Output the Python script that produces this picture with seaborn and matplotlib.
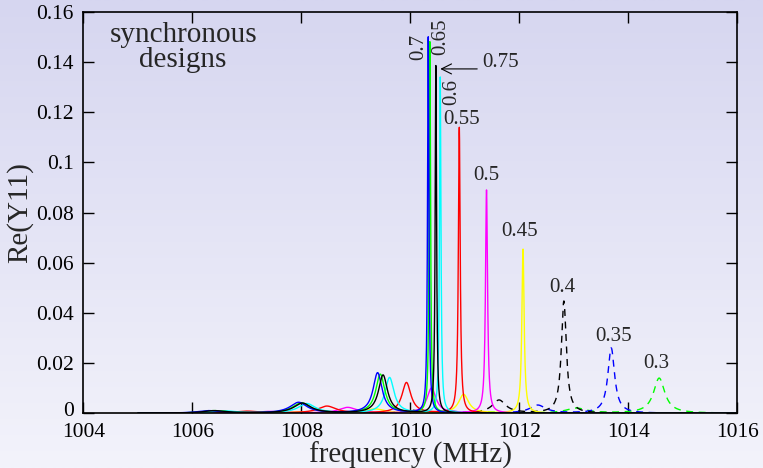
import numpy as np
import matplotlib
matplotlib.use("Agg")
import matplotlib.pyplot as plt
import matplotlib.transforms as mtransforms
import pandas as pd
import seaborn as sns

# coupling of each synchronous design, with the resonance peaks
designs = ["0.3", "0.35", "0.4", "0.45", "0.5", "0.55", "0.6", "0.65", "0.7", "0.75"]
colors = ["#00ff00", "#0000ff", "#000000", "#ffff00", "#ff00ff",
          "#ff0000", "#00ffff", "#00ff00", "#0000ff", "#000000"]
dashed = [True, True, True, False, False, False, False, False, False, False]

# peak centres (MHz), heights and widths (MHz) for every design
centers = {
    "0.3":  [1014.57, 1013.05, 1011.40],
    "0.35": [1013.69, 1012.34, 1010.70],
    "0.4":  [1012.82, 1011.63, 1010.00],
    "0.45": [1012.07, 1010.98, 1009.35, 1007.90],
    "0.5":  [1011.40, 1010.39, 1008.85, 1007.40],
    "0.55": [1010.90, 1009.93, 1008.47, 1007.00],
    "0.6":  [1010.55, 1009.62, 1008.10, 1006.60],
    "0.65": [1010.36, 1009.45, 1008.00, 1006.40],
    "0.7":  [1010.33, 1009.40, 1007.95, 1006.30],
    "0.75": [1010.47, 1009.50, 1008.02, 1006.40],
}
heights = {
    "0.3":  [0.0140, 0.0020, 0.0005],
    "0.35": [0.0260, 0.0032, 0.0008],
    "0.4":  [0.0447, 0.0052, 0.0012],
    "0.45": [0.0654, 0.0075, 0.0017, 0.0005],
    "0.5":  [0.0890, 0.0100, 0.0023, 0.0007],
    "0.55": [0.1140, 0.0122, 0.0028, 0.0008],
    "0.6":  [0.1340, 0.0142, 0.0038, 0.0009],
    "0.65": [0.1480, 0.0155, 0.0041, 0.0010],
    "0.7":  [0.1500, 0.0161, 0.0043, 0.0010],
    "0.75": [0.1385, 0.0152, 0.0040, 0.0010],
}
widths = {
    "0.3":  [0.25, 0.45, 0.60],
    "0.35": [0.15, 0.35, 0.55],
    "0.4":  [0.11, 0.30, 0.50],
    "0.45": [0.050, 0.22, 0.45, 0.55],
    "0.5":  [0.045, 0.20, 0.40, 0.55],
    "0.55": [0.040, 0.20, 0.40, 0.55],
    "0.6":  [0.032, 0.20, 0.38, 0.50],
    "0.65": [0.030, 0.20, 0.38, 0.50],
    "0.7":  [0.030, 0.20, 0.38, 0.50],
    "0.75": [0.030, 0.20, 0.38, 0.50],
}

# label positions (x, y, rotation)
label_pos = {
    "0.3":  (1014.51, 0.0197, 0),
    "0.35": (1013.74, 0.0308, 0),
    "0.4":  (1012.79, 0.0500, 0),
    "0.45": (1012.00, 0.0723, 0),
    "0.5":  (1011.39, 0.0950, 0),
    "0.55": (1010.95, 0.1173, 0),
    "0.6":  (1010.77, 0.1280, 90),
    "0.65": (1010.56, 0.1500, 90),
    "0.7":  (1010.16, 0.1460, 90),
}

freq = np.linspace(1005, 1016, 6000)
rows = []
for d in designs:
    y = np.zeros_like(freq)
    for c, h, w in zip(centers[d], heights[d], widths[d]):
        y += h / (1 + (2 * (freq - c) / w) ** 2)
    rows.append(pd.DataFrame({"freq": freq, "re": y, "design": d}))
df = pd.concat(rows, ignore_index=True)

sns.set_theme(style="ticks")
plt.rcParams["font.family"] = ["Liberation Serif", "DejaVu Serif"]

fig = plt.figure(figsize=(7.63, 4.68), dpi=100)

# gradient background
bg = fig.add_axes([0, 0, 1, 1], zorder=-10)
grad = np.linspace(0, 1, 256)[:, None]
top = np.array([214, 214, 240]) / 255
bot = np.array([243, 243, 251]) / 255
img = top[None, None, :] * (1 - grad[:, :, None]) + bot[None, None, :] * grad[:, :, None]
bg.imshow(img, aspect="auto", extent=[0, 1, 0, 1])
bg.axis("off")

ax = fig.add_axes([0.1094, 0.1169, 0.8566, 0.8575])
ax.set_facecolor("none")

palette = dict(zip(designs, colors))
dash_map = {d: ((5, 4) if dd else "") for d, dd in zip(designs, dashed)}
sns.lineplot(data=df, x="freq", y="re", hue="design", style="design",
             palette=palette, dashes=dash_map, estimator=None, sort=False,
             linewidth=1.0, legend=False, ax=ax)

ax.set_xlim(1004, 1016)
ax.set_ylim(0, 0.16)
ax.set_xticks(np.arange(1004, 1017, 2))
ax.set_yticks(np.arange(0, 0.161, 0.02))
ax.set_yticklabels(["0", "0.02", "0.04", "0.06", "0.08", "0.1", "0.12", "0.14", "0.16"])
ax.tick_params(direction="in", length=8, width=1, top=True, right=True,
               labelsize=15.5, colors="black", pad=7)
ax.tick_params(axis="x", pad=7)
for s in ax.spines.values():
    s.set_linewidth(1.2)
    s.set_color("black")

# nudge the "0" label up a little so it clears "1004"
zero_lbl = ax.get_yticklabels()[0]
zero_lbl.set_transform(zero_lbl.get_transform() +
                       mtransforms.ScaledTranslation(0, 3 / 72, fig.dpi_scale_trans))

ax.set_xlabel("frequency (MHz)", fontsize=21, labelpad=0)
ax.set_ylabel("Re(Y11)", fontsize=21, labelpad=2)

for d, (x, y, r) in label_pos.items():
    ax.text(x, y, d, fontsize=15, rotation=r, ha="center", va="center")
ax.text(1011.65, 0.1397, "0.75", fontsize=15, ha="center", va="center")
ax.annotate("", xy=(1010.50, 0.1373), xytext=(1011.28, 0.1373),
            arrowprops=dict(arrowstyle="->", color="black", lw=0.8,
                            mutation_scale=18))

ax.text(1005.83, 0.146, "synchronous\ndesigns", fontsize=21,
        ha="center", va="center", linespacing=0.95)

fig.savefig("out.png", dpi=100)
